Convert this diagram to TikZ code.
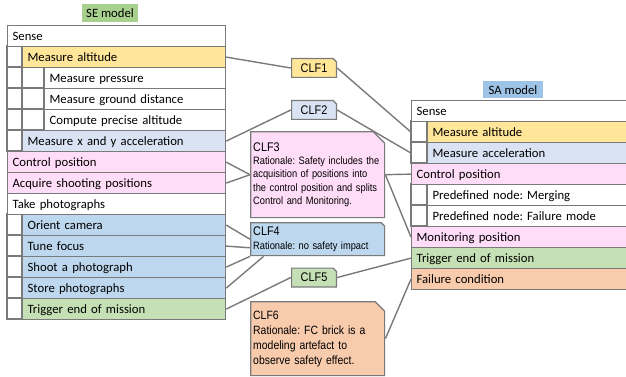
\documentclass[tikz,border=0pt]{standalone}
\usepackage{fontspec}
\setmainfont{Carlito}
\newfontfamily\notefont[FakeStretch=0.87]{Liberation Sans}
\frenchspacing
\usetikzlibrary{calc}
\definecolor{cyel}{HTML}{FFE699}
\definecolor{clblue}{HTML}{DAE3F3}
\definecolor{cpink}{HTML}{FFDDF9}
\definecolor{cblue}{HTML}{BDD7EE}
\definecolor{cgreen}{HTML}{C5E0B4}
\definecolor{corange}{HTML}{F8CBAD}
\definecolor{ctitle}{HTML}{9DC3E6}
\definecolor{cgtitle}{HTML}{A9D18E}
\definecolor{cedge}{HTML}{7A7A7A}

\begin{document}
\begin{tikzpicture}[x=1pt, y=-1pt, row/.style={draw=cedge, line width=1.2pt, fill=white, anchor=north west, minimum height=21pt, inner xsep=5pt, inner ysep=0pt, text height=10pt, text depth=1pt, align=left, font=\fontsize{12.7}{15}\selectfont}, se0/.style={row, text width=208pt}, se1/.style={row, text width=193pt}, se2/.style={row, text width=171pt}, sa0/.style={row, text width=207pt}, sa1/.style={row, text width=191pt}, grid/.style={draw=cedge, line width=1.2pt, fill=white}, title/.style={minimum width=56pt, minimum height=18pt, inner sep=0pt, font=\fontsize{12.7}{15}\selectfont}, note/.style 2 args={inner xsep=3pt, inner ysep=0pt, align=left, anchor=north west, text width=129pt, font=\notefont\fontsize{10.7}{13.3}\selectfont, path picture={\filldraw[fill=#1, draw=cedge, line width=1.2pt] ([shift={(.6pt,.6pt)}]path picture bounding box.south west) -- ([shift={(.6pt,-.6pt)}]path picture bounding box.north west) -- ([shift={(-#2,-.6pt)}]path picture bounding box.north east) -- ([shift={(-.6pt,-#2)}]path picture bounding box.north east) -- ([shift={(-.6pt,.6pt)}]path picture bounding box.south east) -- cycle;}}, tag/.style={note={#1}{4pt}, anchor=center, text width=, align=center, minimum width=46pt, minimum height=20pt, font=\notefont\fontsize{12.5}{14}\selectfont}, link/.style={draw=cedge, line width=1.4pt}]
                \useasboundingbox (0,0) rectangle (626,377);
                % titles
                \node[title, fill=cgtitle] (semodel) at (110,13.5) {SE model};
                \node[title, fill=ctitle, minimum width=60pt, minimum height=17pt] (samodel) at (513,90) {SA model};
                % indent cells
                \draw[grid] (7,46) rectangle (22,151) (7,67) -- (22,67) (7,88) -- (22,88) (7,109) -- (22,109) (7,130) -- (22,130);
                \draw[grid] (22,67) rectangle (44,130) (22,88) -- (44,88) (22,109) -- (44,109);
                \draw[grid] (7,214) rectangle (22,319) (7,235) -- (22,235) (7,256) -- (22,256) (7,277) -- (22,277) (7,298) -- (22,298);
                \draw[grid] (411,121) rectangle (427,163) (411,142) -- (427,142);
                \draw[grid] (411,184) rectangle (427,226) (411,205) -- (427,205);
                % SE model
                \node[se0]              (sesense)   at (7,25)   {Sense};
                \node[se1, fill=cyel]   (sealt)     at (22,46)  {Measure altitude};
                \node[se2]              (sepres)    at (44,67)  {Measure pressure};
                \node[se2]              (seground)  at (44,88)  {Measure ground distance};
                \node[se2]              (secomp)    at (44,109) {Compute precise altitude};
                \node[se1, fill=clblue] (seacc)     at (22,130) {Measure x and y acceleration};
                \node[se0, fill=cpink]  (secontrol) at (7,151)  {Control position};
                \node[se0, fill=cpink]  (seacquire) at (7,172)  {Acquire shooting positions};
                \node[se0]              (setake)    at (7,193)  {Take photographs};
                \node[se1, fill=cblue]  (seorient)  at (22,214) {Orient camera};
                \node[se1, fill=cblue]  (setune)    at (22,235) {Tune focus};
                \node[se1, fill=cblue]  (seshoot)   at (22,256) {Shoot a photograph};
                \node[se1, fill=cblue]  (sestore)   at (22,277) {Store photographs};
                \node[se1, fill=cgreen] (setrigger) at (22,298) {Trigger end of mission};
                % SA model
                \node[sa0]               (sasense)   at (411,100) {Sense};
                \node[sa1, fill=cyel]    (saalt)     at (427,121) {Measure altitude};
                \node[sa1, fill=clblue]  (saacc)     at (427,142) {Measure acceleration};
                \node[sa0, fill=cpink]   (sacontrol) at (411,163) {Control position};
                \node[sa1]               (samerge)   at (427,184) {Predefined node: Merging};
                \node[sa1]               (safail)    at (427,205) {Predefined node: Failure mode};
                \node[sa0, fill=cpink]   (samonitor) at (411,226) {Monitoring position};
                \node[sa0, fill=cgreen]  (satrigger) at (411,247) {Trigger end of mission};
                \node[sa0, fill=corange] (sacond)    at (411,268) {Failure condition};
                % CLF notes
                \node[tag=cyel]   (clf1) at (314,68)    {CLF1};
                \node[tag=clblue] (clf2) at (314,110)   {CLF2};
                \node[note={cpink}{12pt}, minimum height=87pt] (clf3) at (250,131) {{\fontsize{12.5}{13}\selectfont CLF3}\\Rationale: Safety includes the\\acquisition of positions into\\the control position and splits\\Control and Monitoring.};
                \node[note={cblue}{4pt}, minimum height=34pt] (clf4) at (250,222) {{\fontsize{12.5}{13}\selectfont CLF4}\\Rationale: no safety impact};
                \node[tag=cgreen] (clf5) at (314,277.5) {CLF5};
                \node[note={corange}{10pt}, minimum height=75pt, font=\notefont\fontsize{12}{15}\selectfont] (clf6) at (250,301) {CLF6\\Rationale: FC brick is a\\modeling artefact to\\observe safety effect.};
                % edges
                \draw[link] (sealt.east) -- (clf1.west);
                \draw[link] (clf1.east) -- (saalt.west -| sasense.west);
                \draw[link] (seacc.east) -- (clf2.west);
                \draw[link] (clf2.east) -- (saacc.west -| sasense.west);
                \draw[link] (secontrol.east) -- (clf3.west);
                \draw[link] (seacquire.east) -- (clf3.west);
                \draw[link] (clf3.east) -- (sacontrol.west);
                \draw[link] (clf3.east) -- (samonitor.west);
                \draw[link] (seorient.east) -- (clf4.west);
                \draw[link] (setune.east) -- ($(clf4.west)!0.5!(clf4.south west)$);
                \draw[link] (seshoot.east) -- (clf4.south west);
                \draw[link] (sestore.east) -- ($(clf4.south west)!0.1!(clf4.south east)$);
                \draw[link] (setrigger.east) -- (clf5.west);
                \draw[link] (clf5.east) -- (satrigger.west);
                \draw[link] (clf6.east) -- (sacond.west);
            \end{tikzpicture}
\end{document}
